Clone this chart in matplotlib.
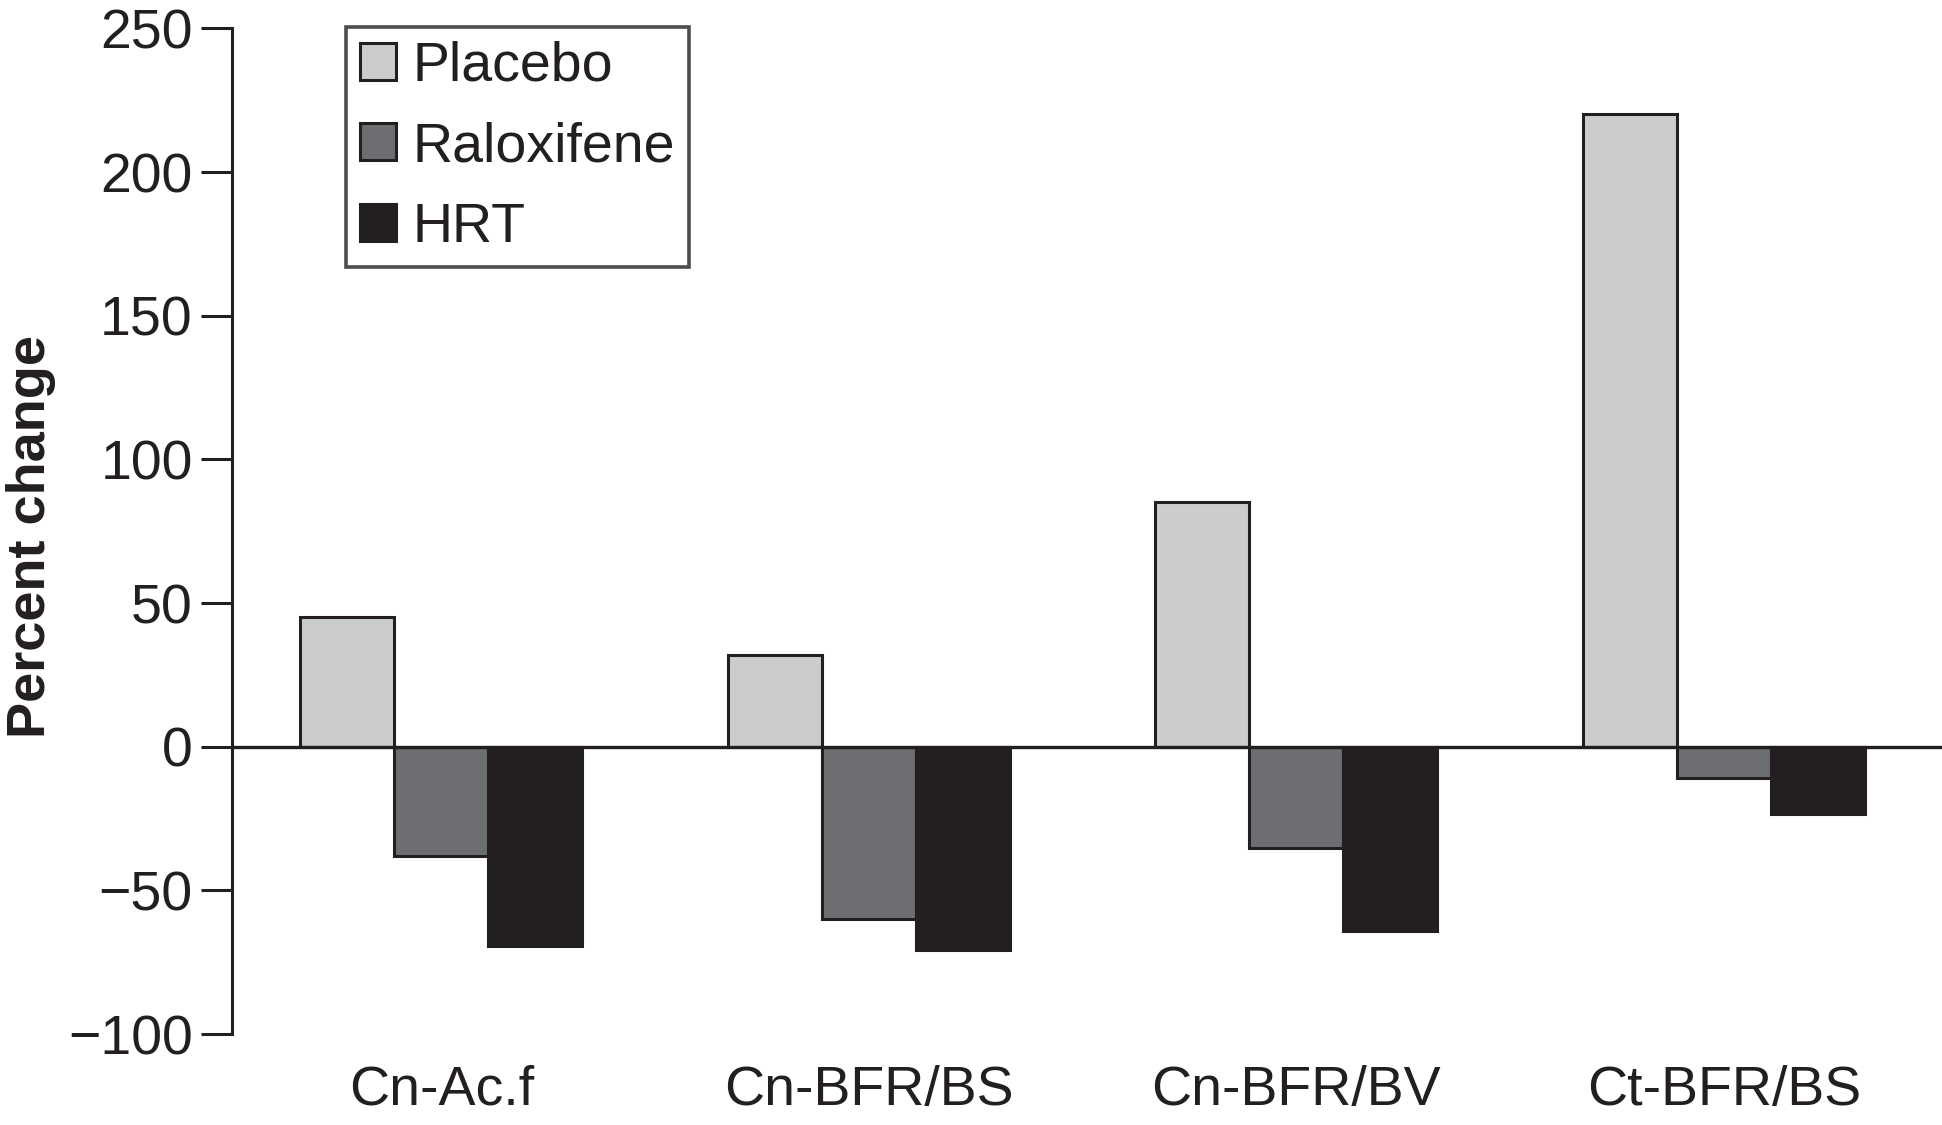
import numpy as np
import matplotlib
matplotlib.use('Agg')
import matplotlib.pyplot as plt
from matplotlib.patches import Patch

# ---------- 数据 ----------
categories = ['Cn-Ac.f', 'Cn-BFR/BS', 'Cn-BFR/BV', 'Ct-BFR/BS']
placebo = [45.3, 31.9, 85.3, 220.3]
raloxifene = [-37.9, -59.9, -35.3, -10.8]
hrt = [-69.4, -70.7, -64.2, -23.3]
series_names = ['Placebo', 'Raloxifene', 'HRT']
yticks = [-100, -50, 0, 50, 100, 150, 200, 250]
ytick_labels = ['\u2212100', '\u221250', '0', '50', '100', '150', '200', '250']

# ---------- 样式 ----------
INK = '#231F20'
colors = ['#CBCCCE', '#6D6E71', '#231F20']
plt.rcParams['font.family'] = ['Liberation Sans', 'DejaVu Sans']

fig = plt.figure(figsize=(19.42, 11.25), dpi=100)
ax = fig.add_axes([0.1193, 0.0808, 0.8807, 0.8939])

x = np.arange(len(categories))
w = 0.22
for k, (vals, c) in enumerate(zip([placebo, raloxifene, hrt], colors)):
    ax.bar(x + (k - 1) * w, vals, width=w, color=c, edgecolor=INK,
           linewidth=2.2, zorder=2)

ax.axhline(0, color=INK, linewidth=2.4, zorder=3)

ax.set_xlim(-0.49, 3.51)
ax.set_ylim(-100, 250)
ax.set_yticks(yticks)
ax.set_yticklabels(ytick_labels)
ax.set_xticks(x)
ax.set_xticklabels(categories)

for s in ['top', 'right', 'bottom']:
    ax.spines[s].set_visible(False)
ax.spines['left'].set_linewidth(2.2)
ax.spines['left'].set_color(INK)
ax.tick_params(axis='y', length=22, width=2.2, color=INK, labelsize=40,
               labelcolor=INK, pad=6)
ax.tick_params(axis='x', length=0, labelsize=40, labelcolor=INK, pad=22)

ax.set_ylabel('Percent change', fontsize=39, fontweight='bold', color=INK)
ax.yaxis.set_label_coords(0.029, 0.523, transform=fig.transFigure)

handles = [Patch(facecolor=c, edgecolor=INK, linewidth=2.2) for c in colors]
leg = fig.legend(handles, series_names, loc='upper left',
                 bbox_to_anchor=(0.178, 0.976), borderaxespad=0,
                 fontsize=40, frameon=True, fancybox=False,
                 handlelength=0.65, handleheight=0.65, handletextpad=0.3,
                 labelspacing=0.51, borderpad=0.25)
leg.get_frame().set_edgecolor(INK)
leg.get_frame().set_linewidth(2.6)
for t in leg.get_texts():
    t.set_color(INK)

fig.savefig('out.png', dpi=100)
